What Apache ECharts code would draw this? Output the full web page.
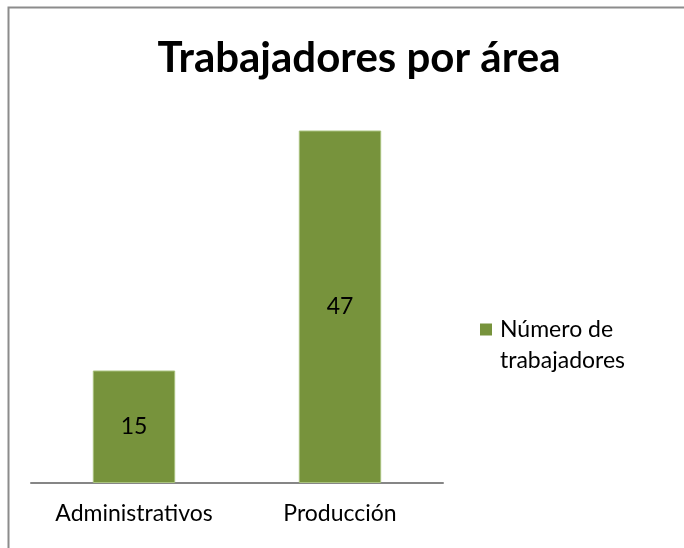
<!DOCTYPE html>
<html>
<head>
<meta charset="utf-8">
<script src="https://cdn.jsdelivr.net/npm/echarts@6/dist/echarts.min.js"></script>
<style>
  html, body { margin: 0; padding: 0; background: #fff; }
  #chart { width: 684px; height: 548px; }
</style>
</head>
<body>
<div id="chart"></div>
<script>
const categories = ['Administrativos', 'Producción']
const seriesName = 'Número de\ntrabajadores'
const values = [15, 47]

var myChart = echarts.init(document.getElementById('chart'))
var font = 'Lato, "Open Sans", sans-serif'
var option = {
  animation: false,
  title: {
    text: 'Trabajadores por área',
    left: 354,
    textAlign: 'center',
    top: 32,
    textStyle: { fontFamily: font, fontWeight: 'bold', fontSize: 42, color: '#000' },
  },
  legend: {
    left: 475,
    top: 278,
    icon: 'rect',
    itemWidth: 12,
    itemHeight: 12,
    itemStyle: { borderWidth: 0 },
    // blank first line so the first text line sits level with the marker
    formatter: (name) => ' \n' + name,
    textStyle: {
      fontFamily: font,
      fontSize: 23,
      color: '#000',
      lineHeight: 31,
      padding: [0, 0, 0, 3],
    },
  },
  grid: { left: 31, right: 241, top: 108, bottom: 65 },
  xAxis: {
    type: 'category',
    data: categories,
    axisTick: { show: false },
    axisLine: { lineStyle: { color: '#868686', width: 2 } },
    axisLabel: { fontFamily: font, fontSize: 23, color: '#000', margin: 19 },
  },
  yAxis: {
    type: 'value',
    min: 0,
    max: 50,
    show: false,
  },
  series: [
    {
      name: seriesName,
      type: 'bar',
      data: values,
      barCategoryGap: '60%',
      itemStyle: { color: '#77933C', borderColor: '#A9C27E', borderWidth: 1 },
      label: {
        show: true,
        position: 'inside',
        fontFamily: font,
        fontSize: 23,
        color: '#000',
      },
    },
  ],
  graphic: [
    {
      type: 'rect',
      shape: { x: 8.5, y: 7.5, width: 800, height: 800 },
      style: { fill: 'none', stroke: '#8c8c8c', lineWidth: 2 },
      silent: true,
      z: -1,
    },
  ],
}
myChart.setOption(option)
</script>
</body>
</html>
